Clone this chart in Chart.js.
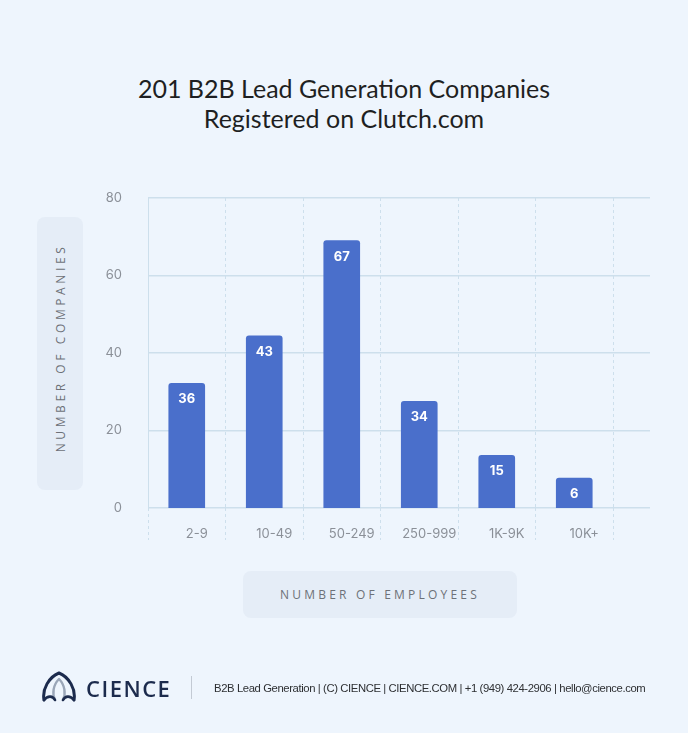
<!DOCTYPE html>
<html>
<head>
<meta charset="utf-8">
<script src="https://cdn.jsdelivr.net/npm/chart.js@4.4.1/dist/chart.umd.min.js"></script>
<style>
  html, body { margin: 0; padding: 0; }
  body { width: 688px; height: 733px; background: #eef5fd; position: relative; overflow: hidden; font-family: "Open Sans", sans-serif; }
  #chart { position: absolute; left: 0; top: 0; }
  .title { position: absolute; left: 0; width: 688px; text-align: center; font-family: Lato, sans-serif; font-size: 25px; color: #1e1f22; line-height: 30px; }
  .axisBox { position: absolute; background: #e5edf7; border-radius: 8px; color: #6d7178; font-size: 12px; letter-spacing: 3.2px; font-family: "Open Sans", sans-serif; }
  #yBox { left: 37px; top: 217px; width: 46px; height: 273px; }
  #yBox span { position: absolute; left: 50%; top: 48%; transform: translate(-50%, -50%) rotate(-90deg); white-space: nowrap; letter-spacing: 3.6px; }
  #xBox { left: 243px; top: 571px; width: 274px; height: 47px; line-height: 47px; text-align: center; }
  #logo { position: absolute; left: 41px; top: 671px; }
  #brand { position: absolute; left: 86px; top: 674px; font-family: "Open Sans", sans-serif; font-weight: 600; font-size: 22px; letter-spacing: 1.5px; color: #1c2b4d; line-height: 28px; }
  #sep { position: absolute; left: 191px; top: 676px; width: 1px; height: 23px; background: #c3cad4; }
  #foot { position: absolute; left: 214px; top: 680px; font-family: "Liberation Sans", Arial, sans-serif; font-size: 11.3px; letter-spacing: -0.4px; color: #2e3033; line-height: 16px; white-space: nowrap; }
</style>
</head>
<body>
<div class="title" style="top:73px">201 B2B Lead Generation Companies</div>
<div class="title" style="top:103px">Registered on Clutch.com</div>
<div class="axisBox" id="yBox"><span>NUMBER OF COMPANIES</span></div>
<div class="axisBox" id="xBox">NUMBER OF EMPLOYEES</div>
<canvas id="chart" width="688" height="733"></canvas>
<svg id="logo" width="36" height="32" viewBox="0 0 36 32">
  <path d="M3 29 C1 18 8 6 18 2 C28 6 35 18 33 29" fill="none" stroke="#1c2b4d" stroke-width="3" stroke-linecap="round"/>
  <path d="M18 8 C12 14 11 23 14 29 M18 8 C24 14 25 23 22 29" fill="none" stroke="#9aa6b8" stroke-width="2.4" stroke-linecap="round"/>
  <path d="M3 29 C7 24 12 25 14 29 M33 29 C29 24 24 25 22 29" fill="none" stroke="#1c2b4d" stroke-width="2.6" stroke-linecap="round"/>
</svg>
<div id="brand">CIENCE</div>
<div id="sep"></div>
<div id="foot">B2B Lead Generation | (C) CIENCE | CIENCE.COM | +1 (949) 424-2906 | hello@cience.com</div>

<script>
// employee size buckets
const categories = ['2-9', '10-49', '50-249', '250-999', '1K-9K', '10K+'];
// numbers printed on the bars
const companies = [36, 43, 67, 34, 15, 6];
// bar heights as drawn in the picture (they don't quite match the printed numbers)
const barLevel = [32.2, 44.4, 69, 27.5, 13.6, 7.7];
const yTicks = [0, 20, 40, 60, 80];

const gridColor = '#cddfec';
const tickColor = '#8b9098';

// prints the company count inside the top of each bar
const barNumbers = {
    id: 'barNumbers',
    afterDatasetsDraw(chart) {
        const ctx = chart.ctx;
        const meta = chart.getDatasetMeta(0);
        ctx.save();
        ctx.fillStyle = '#ffffff';
        ctx.font = 'bold 13px Inter, sans-serif';
        ctx.textAlign = 'center';
        ctx.textBaseline = 'middle';
        meta.data.forEach((bar, i) => {
            ctx.fillText(String(companies[i]), bar.x, bar.y + 16);
        });
        ctx.restore();
    }
};

new Chart(document.getElementById('chart'), {
    type: 'bar',
    data: {
        labels: categories,
        datasets: [{
            data: barLevel,
            backgroundColor: '#4a6fcb',
            borderRadius: { topLeft: 3, topRight: 3 },
            borderSkipped: 'bottom',
            barThickness: 36,
            yAxisID: 'y'
        }]
    },
    options: {
        responsive: false,
        animation: false,
        layout: { padding: { left: 100, top: 198, right: 38, bottom: 185 } },
        plugins: {
            legend: { display: false },
            tooltip: { enabled: false }
        },
        scales: {
            x: {
                offset: true,
                grid: {
                    offset: true,
                    color: gridColor,
                    tickBorderDash: [3, 3],
                    tickColor: gridColor,
                    tickLength: 32
                },
                border: { display: false, dash: [3, 3] },
                ticks: {
                    color: tickColor,
                    font: { family: 'Inter', size: 13 },
                    padding: -14,
                    labelOffset: 10,
                    maxRotation: 0
                },
                afterFit(scale) { scale.height = 40; }
            },
            y: {
                position: 'left',
                min: 0,
                max: 80,
                grid: { display: false },
                border: { display: true, color: gridColor },
                ticks: {
                    stepSize: 20,
                    color: tickColor,
                    font: { family: 'Inter', size: 13 },
                    padding: 18,
                    callback: (v) => yTicks.includes(v) ? String(v) : ''
                },
                afterFit(scale) { scale.width = 48; }
            },
            y2: {
                position: 'right',
                min: 0,
                max: 80,
                grid: { color: gridColor, lineWidth: 1.5, tickLength: 37, tickColor: gridColor },
                border: { display: false },
                ticks: { stepSize: 20, display: false },
                afterFit(scale) { scale.width = 37; }
            }
        }
    },
    plugins: [barNumbers]
});
</script>
</body>
</html>
